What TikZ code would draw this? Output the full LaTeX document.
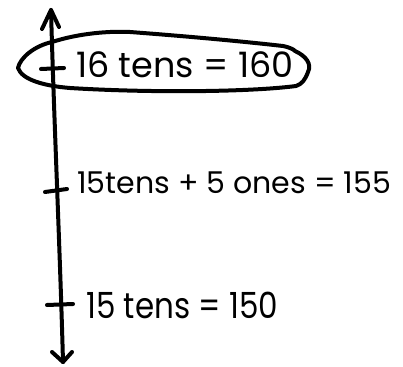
\documentclass[tikz,border=0pt]{standalone}
\usepackage{fontspec}
\setmainfont{Poppins}
\tikzset{
  pen/.style={line width=4pt, line cap=round, line join=round, black},
  lbl/.style={anchor=base west, inner sep=0pt},
}
\begin{document}
\begin{tikzpicture}[x=1pt,y=-1pt]
\useasboundingbox[fill=white] (0,0) rectangle (403,366);
% axis
\coordinate (top) at (51,10);
\coordinate (bot) at (63,362);
\draw[pen] (bot) .. controls (60,250) and (54,120) .. (top);
\draw[pen] (42,29) -- (top) -- (59,27);
\draw[pen] (52,352) -- (bot) -- (72,352);
% ticks
\coordinate (t1a) at (41,69);  \coordinate (t1b) at (64,68);
\coordinate (t2a) at (45,192); \coordinate (t2b) at (67,189);
\coordinate (t3a) at (47,305); \coordinate (t3b) at (73,304);
\draw[pen] (t1a) -- (t1b);
\draw[pen] (t2a) -- (t2b);
\draw[pen] (t3a) -- (t3b);
% labels
\node[lbl, font=\fontsize{35}{38}\selectfont] (l1) at (76,78) {16 tens = 160};
\node[lbl, font=\fontsize{30}{33}\selectfont] (l2) at (77,193) {15tens + 5 ones = 155};
\node[lbl, font=\fontsize{36}{38}\selectfont, xscale=0.86] (l3) at (86,318) {15 tens = 150};
% loop around top label
\draw[pen] (52,42) .. controls (80,33) and (110,31) .. (130,32)
  .. controls (170,35) and (230,40) .. (283,46)
  .. controls (292,48) and (294,50) .. (295,51)
  .. controls (306,56) and (312,64) .. (308,72)
  .. controls (305,80) and (302,84) .. (296,86)
  .. controls (250,92) and (150,93) .. (70,88)
  .. controls (45,86) and (22,80) .. (18,68)
  .. controls (20,58) and (34,46) .. (52,42);
\end{tikzpicture}
\end{document}
